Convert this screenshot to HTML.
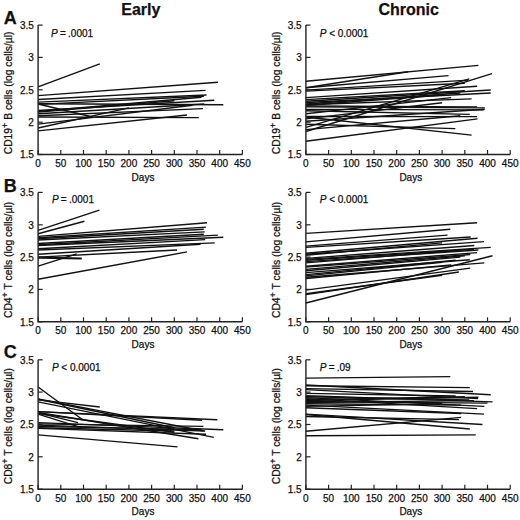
<!DOCTYPE html>
<html><head><meta charset="utf-8"><style>
html,body{margin:0;padding:0;background:#fff;width:520px;height:520px;overflow:hidden}
svg{display:block}
text{font-family:"Liberation Sans", sans-serif;font-size:10px;fill:#111;stroke:#111;stroke-width:0.25px}
.t{font-weight:bold;font-size:16px}
.yl{font-size:10.3px}
.L{font-weight:bold;font-size:18px}
.ax{fill:none;stroke:#222;stroke-width:1.4;stroke-linejoin:miter}
.tk{fill:none;stroke:#222;stroke-width:1.2}
.d{stroke:#111;stroke-width:1.4;stroke-linecap:butt}
</style></head><body>
<svg width="520" height="520" viewBox="0 0 520 520">
<line x1="38.1" y1="86.9" x2="99.8" y2="63.9" class="d"/>
<line x1="38.1" y1="95.6" x2="217.9" y2="82.3" class="d"/>
<line x1="38.1" y1="99.5" x2="205.6" y2="90.4" class="d"/>
<line x1="38.1" y1="102.1" x2="206.5" y2="95.0" class="d"/>
<line x1="38.1" y1="103.7" x2="223.3" y2="104.7" class="d"/>
<line x1="38.1" y1="104.0" x2="92.6" y2="117.0" class="d"/>
<line x1="38.1" y1="104.4" x2="203.8" y2="96.3" class="d"/>
<line x1="38.1" y1="110.5" x2="214.3" y2="100.2" class="d"/>
<line x1="38.1" y1="111.5" x2="201.5" y2="97.2" class="d"/>
<line x1="38.1" y1="112.1" x2="174.3" y2="100.8" class="d"/>
<line x1="38.1" y1="113.7" x2="204.3" y2="104.0" class="d"/>
<line x1="38.1" y1="115.7" x2="202.9" y2="108.6" class="d"/>
<line x1="38.1" y1="117.0" x2="198.8" y2="117.6" class="d"/>
<line x1="38.1" y1="124.1" x2="192.5" y2="105.3" class="d"/>
<line x1="38.1" y1="128.0" x2="128.9" y2="107.9" class="d"/>
<line x1="38.1" y1="130.9" x2="187.0" y2="115.0" class="d"/>
<path class="ax" d="M38.1 25.1V154.5H242.4"/>
<path class="tk" d="M38.1 154.5h4.6"/>
<text x="33.9" y="158.4" text-anchor="end">1.5</text>
<path class="tk" d="M38.1 122.2h4.6"/>
<text x="33.9" y="126.1" text-anchor="end">2</text>
<path class="tk" d="M38.1 89.8h4.6"/>
<text x="33.9" y="93.7" text-anchor="end">2.5</text>
<path class="tk" d="M38.1 57.4h4.6"/>
<text x="33.9" y="61.3" text-anchor="end">3</text>
<path class="tk" d="M38.1 25.1h4.6"/>
<text x="33.9" y="29.0" text-anchor="end">3.5</text>
<path class="tk" d="M38.1 154.5v-4.5"/>
<text x="38.1" y="167.1" text-anchor="middle">0</text>
<path class="tk" d="M60.8 154.5v-4.5"/>
<text x="60.8" y="167.1" text-anchor="middle">50</text>
<path class="tk" d="M83.5 154.5v-4.5"/>
<text x="83.5" y="167.1" text-anchor="middle">100</text>
<path class="tk" d="M106.2 154.5v-4.5"/>
<text x="106.2" y="167.1" text-anchor="middle">150</text>
<path class="tk" d="M128.9 154.5v-4.5"/>
<text x="128.9" y="167.1" text-anchor="middle">200</text>
<path class="tk" d="M151.6 154.5v-4.5"/>
<text x="151.6" y="167.1" text-anchor="middle">250</text>
<path class="tk" d="M174.3 154.5v-4.5"/>
<text x="174.3" y="167.1" text-anchor="middle">300</text>
<path class="tk" d="M197.0 154.5v-4.5"/>
<text x="197.0" y="167.1" text-anchor="middle">350</text>
<path class="tk" d="M219.7 154.5v-4.5"/>
<text x="219.7" y="167.1" text-anchor="middle">400</text>
<path class="tk" d="M242.4 154.5v-4.5"/>
<text x="242.4" y="167.1" text-anchor="middle">450</text>
<text x="143.0" y="180.7" text-anchor="middle">Days</text>
<text class="yl" transform="translate(11.7 154.3) rotate(-90)">CD19<tspan dy="-4" font-size="9px">+</tspan><tspan dy="4"> B cells (log cells/µl)</tspan></text>
<text x="51.0" y="36.7" word-spacing="-0.5"><tspan font-style="italic">P</tspan> = .0001</text>
<line x1="305.9" y1="81.3" x2="478.4" y2="65.4" class="d"/>
<line x1="305.9" y1="87.8" x2="448.5" y2="75.6" class="d"/>
<line x1="305.9" y1="87.8" x2="408.0" y2="71.7" class="d"/>
<line x1="305.9" y1="90.1" x2="468.4" y2="80.1" class="d"/>
<line x1="305.9" y1="91.1" x2="464.8" y2="83.3" class="d"/>
<line x1="305.9" y1="97.6" x2="477.1" y2="86.2" class="d"/>
<line x1="305.9" y1="99.6" x2="464.8" y2="90.8" class="d"/>
<line x1="305.9" y1="101.2" x2="490.7" y2="90.0" class="d"/>
<line x1="305.9" y1="102.5" x2="490.7" y2="93.0" class="d"/>
<line x1="305.9" y1="104.0" x2="460.3" y2="93.0" class="d"/>
<line x1="305.9" y1="104.7" x2="471.6" y2="98.9" class="d"/>
<line x1="305.9" y1="105.3" x2="442.1" y2="95.0" class="d"/>
<line x1="305.9" y1="106.0" x2="477.1" y2="106.9" class="d"/>
<line x1="305.9" y1="106.9" x2="484.8" y2="107.9" class="d"/>
<line x1="305.9" y1="109.4" x2="483.9" y2="109.9" class="d"/>
<line x1="305.9" y1="110.8" x2="469.8" y2="114.4" class="d"/>
<line x1="305.9" y1="113.7" x2="451.2" y2="97.6" class="d"/>
<line x1="305.9" y1="116.5" x2="477.1" y2="116.6" class="d"/>
<line x1="305.9" y1="118.9" x2="442.1" y2="102.7" class="d"/>
<line x1="305.9" y1="121.2" x2="484.8" y2="109.2" class="d"/>
<line x1="305.9" y1="124.2" x2="455.3" y2="128.6" class="d"/>
<line x1="305.9" y1="117.0" x2="471.6" y2="135.1" class="d"/>
<line x1="305.9" y1="127.3" x2="469.3" y2="78.8" class="d"/>
<line x1="305.9" y1="129.6" x2="460.3" y2="115.7" class="d"/>
<line x1="305.9" y1="131.5" x2="492.0" y2="73.6" class="d"/>
<line x1="305.9" y1="141.2" x2="477.5" y2="118.9" class="d"/>
<path class="ax" d="M305.9 25.1V154.5H510.2"/>
<path class="tk" d="M305.9 154.5h4.6"/>
<text x="301.7" y="158.4" text-anchor="end">1.5</text>
<path class="tk" d="M305.9 122.2h4.6"/>
<text x="301.7" y="126.1" text-anchor="end">2</text>
<path class="tk" d="M305.9 89.8h4.6"/>
<text x="301.7" y="93.7" text-anchor="end">2.5</text>
<path class="tk" d="M305.9 57.4h4.6"/>
<text x="301.7" y="61.3" text-anchor="end">3</text>
<path class="tk" d="M305.9 25.1h4.6"/>
<text x="301.7" y="29.0" text-anchor="end">3.5</text>
<path class="tk" d="M305.9 154.5v-4.5"/>
<text x="305.9" y="167.1" text-anchor="middle">0</text>
<path class="tk" d="M328.6 154.5v-4.5"/>
<text x="328.6" y="167.1" text-anchor="middle">50</text>
<path class="tk" d="M351.3 154.5v-4.5"/>
<text x="351.3" y="167.1" text-anchor="middle">100</text>
<path class="tk" d="M374.0 154.5v-4.5"/>
<text x="374.0" y="167.1" text-anchor="middle">150</text>
<path class="tk" d="M396.7 154.5v-4.5"/>
<text x="396.7" y="167.1" text-anchor="middle">200</text>
<path class="tk" d="M419.4 154.5v-4.5"/>
<text x="419.4" y="167.1" text-anchor="middle">250</text>
<path class="tk" d="M442.1 154.5v-4.5"/>
<text x="442.1" y="167.1" text-anchor="middle">300</text>
<path class="tk" d="M464.8 154.5v-4.5"/>
<text x="464.8" y="167.1" text-anchor="middle">350</text>
<path class="tk" d="M487.5 154.5v-4.5"/>
<text x="487.5" y="167.1" text-anchor="middle">400</text>
<path class="tk" d="M510.2 154.5v-4.5"/>
<text x="510.2" y="167.1" text-anchor="middle">450</text>
<text x="410.8" y="180.7" text-anchor="middle">Days</text>
<text class="yl" transform="translate(279.5 154.3) rotate(-90)">CD19<tspan dy="-4" font-size="9px">+</tspan><tspan dy="4"> B cells (log cells/µl)</tspan></text>
<text x="319.7" y="36.7"><tspan font-style="italic">P</tspan> &lt; 0.0001</text>
<line x1="38.1" y1="230.3" x2="99.4" y2="210.1" class="d"/>
<line x1="38.1" y1="233.8" x2="84.4" y2="221.3" class="d"/>
<line x1="38.1" y1="236.4" x2="207.0" y2="222.8" class="d"/>
<line x1="38.1" y1="237.7" x2="206.1" y2="227.1" class="d"/>
<line x1="38.1" y1="238.7" x2="203.8" y2="229.3" class="d"/>
<line x1="38.1" y1="240.0" x2="204.7" y2="231.9" class="d"/>
<line x1="38.1" y1="243.5" x2="203.8" y2="234.2" class="d"/>
<line x1="38.1" y1="244.8" x2="217.9" y2="235.1" class="d"/>
<line x1="38.1" y1="245.5" x2="223.3" y2="237.3" class="d"/>
<line x1="38.1" y1="248.7" x2="205.2" y2="239.6" class="d"/>
<line x1="38.1" y1="250.0" x2="214.7" y2="242.9" class="d"/>
<line x1="38.1" y1="254.2" x2="200.6" y2="244.2" class="d"/>
<line x1="38.1" y1="257.1" x2="177.0" y2="250.0" class="d"/>
<line x1="38.1" y1="257.1" x2="81.7" y2="258.1" class="d"/>
<line x1="38.1" y1="258.1" x2="81.7" y2="258.7" class="d"/>
<line x1="38.1" y1="266.2" x2="76.7" y2="253.9" class="d"/>
<line x1="38.1" y1="279.3" x2="187.0" y2="251.9" class="d"/>
<path class="ax" d="M38.1 192.4V321.8H242.4"/>
<path class="tk" d="M38.1 321.8h4.6"/>
<text x="33.9" y="325.7" text-anchor="end">1.5</text>
<path class="tk" d="M38.1 289.4h4.6"/>
<text x="33.9" y="293.3" text-anchor="end">2</text>
<path class="tk" d="M38.1 257.1h4.6"/>
<text x="33.9" y="261.0" text-anchor="end">2.5</text>
<path class="tk" d="M38.1 224.8h4.6"/>
<text x="33.9" y="228.7" text-anchor="end">3</text>
<path class="tk" d="M38.1 192.4h4.6"/>
<text x="33.9" y="196.3" text-anchor="end">3.5</text>
<path class="tk" d="M38.1 321.8v-4.5"/>
<text x="38.1" y="334.4" text-anchor="middle">0</text>
<path class="tk" d="M60.8 321.8v-4.5"/>
<text x="60.8" y="334.4" text-anchor="middle">50</text>
<path class="tk" d="M83.5 321.8v-4.5"/>
<text x="83.5" y="334.4" text-anchor="middle">100</text>
<path class="tk" d="M106.2 321.8v-4.5"/>
<text x="106.2" y="334.4" text-anchor="middle">150</text>
<path class="tk" d="M128.9 321.8v-4.5"/>
<text x="128.9" y="334.4" text-anchor="middle">200</text>
<path class="tk" d="M151.6 321.8v-4.5"/>
<text x="151.6" y="334.4" text-anchor="middle">250</text>
<path class="tk" d="M174.3 321.8v-4.5"/>
<text x="174.3" y="334.4" text-anchor="middle">300</text>
<path class="tk" d="M197.0 321.8v-4.5"/>
<text x="197.0" y="334.4" text-anchor="middle">350</text>
<path class="tk" d="M219.7 321.8v-4.5"/>
<text x="219.7" y="334.4" text-anchor="middle">400</text>
<path class="tk" d="M242.4 321.8v-4.5"/>
<text x="242.4" y="334.4" text-anchor="middle">450</text>
<text x="143.0" y="348.0" text-anchor="middle">Days</text>
<text class="yl" transform="translate(11.7 318.0) rotate(-90)">CD4<tspan dy="-4" font-size="9px">+</tspan><tspan dy="4"> T cells (log cells/µl)</tspan></text>
<text x="51.9" y="203.4" word-spacing="-0.5"><tspan font-style="italic">P</tspan> = .0001</text>
<line x1="305.9" y1="233.4" x2="477.1" y2="222.8" class="d"/>
<line x1="305.9" y1="241.9" x2="450.3" y2="229.3" class="d"/>
<line x1="305.9" y1="246.1" x2="447.5" y2="235.1" class="d"/>
<line x1="305.9" y1="247.4" x2="470.7" y2="237.0" class="d"/>
<line x1="305.9" y1="253.2" x2="477.5" y2="238.3" class="d"/>
<line x1="305.9" y1="254.2" x2="483.9" y2="241.6" class="d"/>
<line x1="305.9" y1="255.2" x2="442.1" y2="242.9" class="d"/>
<line x1="305.9" y1="258.4" x2="474.3" y2="245.5" class="d"/>
<line x1="305.9" y1="259.4" x2="490.7" y2="247.4" class="d"/>
<line x1="305.9" y1="260.3" x2="473.9" y2="249.3" class="d"/>
<line x1="305.9" y1="261.6" x2="478.4" y2="250.0" class="d"/>
<line x1="305.9" y1="262.9" x2="455.7" y2="250.6" class="d"/>
<line x1="305.9" y1="266.2" x2="477.1" y2="252.6" class="d"/>
<line x1="305.9" y1="267.1" x2="470.2" y2="254.5" class="d"/>
<line x1="305.9" y1="269.4" x2="464.8" y2="255.8" class="d"/>
<line x1="305.9" y1="270.7" x2="460.3" y2="257.1" class="d"/>
<line x1="305.9" y1="272.6" x2="469.8" y2="259.7" class="d"/>
<line x1="305.9" y1="274.6" x2="455.7" y2="260.3" class="d"/>
<line x1="305.9" y1="275.9" x2="442.1" y2="262.3" class="d"/>
<line x1="305.9" y1="277.2" x2="484.3" y2="262.9" class="d"/>
<line x1="305.9" y1="278.5" x2="451.2" y2="264.9" class="d"/>
<line x1="305.9" y1="290.1" x2="470.2" y2="268.1" class="d"/>
<line x1="305.9" y1="294.6" x2="458.9" y2="272.0" class="d"/>
<line x1="305.9" y1="293.7" x2="442.1" y2="275.2" class="d"/>
<line x1="305.9" y1="303.0" x2="492.5" y2="255.8" class="d"/>
<path class="ax" d="M305.9 192.4V321.8H510.2"/>
<path class="tk" d="M305.9 321.8h4.6"/>
<text x="301.7" y="325.7" text-anchor="end">1.5</text>
<path class="tk" d="M305.9 289.4h4.6"/>
<text x="301.7" y="293.3" text-anchor="end">2</text>
<path class="tk" d="M305.9 257.1h4.6"/>
<text x="301.7" y="261.0" text-anchor="end">2.5</text>
<path class="tk" d="M305.9 224.8h4.6"/>
<text x="301.7" y="228.7" text-anchor="end">3</text>
<path class="tk" d="M305.9 192.4h4.6"/>
<text x="301.7" y="196.3" text-anchor="end">3.5</text>
<path class="tk" d="M305.9 321.8v-4.5"/>
<text x="305.9" y="334.4" text-anchor="middle">0</text>
<path class="tk" d="M328.6 321.8v-4.5"/>
<text x="328.6" y="334.4" text-anchor="middle">50</text>
<path class="tk" d="M351.3 321.8v-4.5"/>
<text x="351.3" y="334.4" text-anchor="middle">100</text>
<path class="tk" d="M374.0 321.8v-4.5"/>
<text x="374.0" y="334.4" text-anchor="middle">150</text>
<path class="tk" d="M396.7 321.8v-4.5"/>
<text x="396.7" y="334.4" text-anchor="middle">200</text>
<path class="tk" d="M419.4 321.8v-4.5"/>
<text x="419.4" y="334.4" text-anchor="middle">250</text>
<path class="tk" d="M442.1 321.8v-4.5"/>
<text x="442.1" y="334.4" text-anchor="middle">300</text>
<path class="tk" d="M464.8 321.8v-4.5"/>
<text x="464.8" y="334.4" text-anchor="middle">350</text>
<path class="tk" d="M487.5 321.8v-4.5"/>
<text x="487.5" y="334.4" text-anchor="middle">400</text>
<path class="tk" d="M510.2 321.8v-4.5"/>
<text x="510.2" y="334.4" text-anchor="middle">450</text>
<text x="410.8" y="348.0" text-anchor="middle">Days</text>
<text class="yl" transform="translate(279.5 318.0) rotate(-90)">CD4<tspan dy="-4" font-size="9px">+</tspan><tspan dy="4"> T cells (log cells/µl)</tspan></text>
<text x="319.7" y="203.4"><tspan font-style="italic">P</tspan> &lt; 0.0001</text>
<line x1="38.1" y1="387.0" x2="83.0" y2="420.0" class="d"/>
<line x1="38.1" y1="398.9" x2="203.8" y2="431.0" class="d"/>
<line x1="38.1" y1="399.3" x2="174.3" y2="427.7" class="d"/>
<line x1="38.1" y1="399.9" x2="99.8" y2="407.0" class="d"/>
<line x1="38.1" y1="401.9" x2="213.8" y2="437.4" class="d"/>
<line x1="38.1" y1="411.6" x2="217.4" y2="419.7" class="d"/>
<line x1="38.1" y1="411.6" x2="202.0" y2="420.2" class="d"/>
<line x1="38.1" y1="412.5" x2="198.4" y2="438.7" class="d"/>
<line x1="38.1" y1="413.5" x2="174.3" y2="432.3" class="d"/>
<line x1="38.1" y1="414.1" x2="81.2" y2="427.7" class="d"/>
<line x1="38.1" y1="412.9" x2="78.1" y2="422.6" class="d"/>
<line x1="38.1" y1="422.6" x2="223.3" y2="429.7" class="d"/>
<line x1="38.1" y1="423.9" x2="203.4" y2="426.4" class="d"/>
<line x1="38.1" y1="425.1" x2="205.2" y2="431.0" class="d"/>
<line x1="38.1" y1="426.4" x2="201.5" y2="429.7" class="d"/>
<line x1="38.1" y1="427.7" x2="174.3" y2="431.0" class="d"/>
<line x1="38.1" y1="434.9" x2="177.5" y2="446.9" class="d"/>
<line x1="38.1" y1="428.4" x2="206.1" y2="434.2" class="d"/>
<path class="ax" d="M38.1 359.8V489.2H242.4"/>
<path class="tk" d="M38.1 489.2h4.6"/>
<text x="33.9" y="493.1" text-anchor="end">1.5</text>
<path class="tk" d="M38.1 456.8h4.6"/>
<text x="33.9" y="460.7" text-anchor="end">2</text>
<path class="tk" d="M38.1 424.5h4.6"/>
<text x="33.9" y="428.4" text-anchor="end">2.5</text>
<path class="tk" d="M38.1 392.1h4.6"/>
<text x="33.9" y="396.0" text-anchor="end">3</text>
<path class="tk" d="M38.1 359.8h4.6"/>
<text x="33.9" y="363.7" text-anchor="end">3.5</text>
<path class="tk" d="M38.1 489.2v-4.5"/>
<text x="38.1" y="501.8" text-anchor="middle">0</text>
<path class="tk" d="M60.8 489.2v-4.5"/>
<text x="60.8" y="501.8" text-anchor="middle">50</text>
<path class="tk" d="M83.5 489.2v-4.5"/>
<text x="83.5" y="501.8" text-anchor="middle">100</text>
<path class="tk" d="M106.2 489.2v-4.5"/>
<text x="106.2" y="501.8" text-anchor="middle">150</text>
<path class="tk" d="M128.9 489.2v-4.5"/>
<text x="128.9" y="501.8" text-anchor="middle">200</text>
<path class="tk" d="M151.6 489.2v-4.5"/>
<text x="151.6" y="501.8" text-anchor="middle">250</text>
<path class="tk" d="M174.3 489.2v-4.5"/>
<text x="174.3" y="501.8" text-anchor="middle">300</text>
<path class="tk" d="M197.0 489.2v-4.5"/>
<text x="197.0" y="501.8" text-anchor="middle">350</text>
<path class="tk" d="M219.7 489.2v-4.5"/>
<text x="219.7" y="501.8" text-anchor="middle">400</text>
<path class="tk" d="M242.4 489.2v-4.5"/>
<text x="242.4" y="501.8" text-anchor="middle">450</text>
<text x="143.0" y="515.4" text-anchor="middle">Days</text>
<text class="yl" transform="translate(11.7 484.3) rotate(-90)">CD8<tspan dy="-4" font-size="9px">+</tspan><tspan dy="4"> T cells (log cells/µl)</tspan></text>
<text x="51.9" y="370.5"><tspan font-style="italic">P</tspan> &lt; 0.0001</text>
<line x1="305.9" y1="378.1" x2="450.3" y2="376.6" class="d"/>
<line x1="305.9" y1="385.0" x2="490.7" y2="394.7" class="d"/>
<line x1="305.9" y1="385.7" x2="469.8" y2="387.6" class="d"/>
<line x1="305.9" y1="388.6" x2="473.0" y2="391.5" class="d"/>
<line x1="305.9" y1="389.6" x2="478.0" y2="398.6" class="d"/>
<line x1="305.9" y1="393.4" x2="455.7" y2="396.0" class="d"/>
<line x1="305.9" y1="395.8" x2="492.5" y2="401.9" class="d"/>
<line x1="305.9" y1="396.7" x2="469.3" y2="399.9" class="d"/>
<line x1="305.9" y1="397.6" x2="484.3" y2="406.4" class="d"/>
<line x1="305.9" y1="398.6" x2="477.1" y2="408.6" class="d"/>
<line x1="305.9" y1="399.6" x2="464.8" y2="396.7" class="d"/>
<line x1="305.9" y1="400.6" x2="478.4" y2="397.3" class="d"/>
<line x1="305.9" y1="401.5" x2="487.5" y2="403.1" class="d"/>
<line x1="305.9" y1="402.5" x2="473.9" y2="400.6" class="d"/>
<line x1="305.9" y1="403.8" x2="461.2" y2="405.1" class="d"/>
<line x1="305.9" y1="405.1" x2="483.9" y2="414.1" class="d"/>
<line x1="305.9" y1="406.4" x2="442.1" y2="403.8" class="d"/>
<line x1="305.9" y1="407.7" x2="461.2" y2="413.5" class="d"/>
<line x1="305.9" y1="414.1" x2="482.5" y2="424.5" class="d"/>
<line x1="305.9" y1="414.5" x2="469.8" y2="429.0" class="d"/>
<line x1="305.9" y1="416.5" x2="458.9" y2="419.6" class="d"/>
<line x1="305.9" y1="431.2" x2="461.2" y2="417.4" class="d"/>
<line x1="305.9" y1="435.8" x2="475.7" y2="434.9" class="d"/>
<path class="ax" d="M305.9 359.8V489.2H510.2"/>
<path class="tk" d="M305.9 489.2h4.6"/>
<text x="301.7" y="493.1" text-anchor="end">1.5</text>
<path class="tk" d="M305.9 456.8h4.6"/>
<text x="301.7" y="460.7" text-anchor="end">2</text>
<path class="tk" d="M305.9 424.5h4.6"/>
<text x="301.7" y="428.4" text-anchor="end">2.5</text>
<path class="tk" d="M305.9 392.1h4.6"/>
<text x="301.7" y="396.0" text-anchor="end">3</text>
<path class="tk" d="M305.9 359.8h4.6"/>
<text x="301.7" y="363.7" text-anchor="end">3.5</text>
<path class="tk" d="M305.9 489.2v-4.5"/>
<text x="305.9" y="501.8" text-anchor="middle">0</text>
<path class="tk" d="M328.6 489.2v-4.5"/>
<text x="328.6" y="501.8" text-anchor="middle">50</text>
<path class="tk" d="M351.3 489.2v-4.5"/>
<text x="351.3" y="501.8" text-anchor="middle">100</text>
<path class="tk" d="M374.0 489.2v-4.5"/>
<text x="374.0" y="501.8" text-anchor="middle">150</text>
<path class="tk" d="M396.7 489.2v-4.5"/>
<text x="396.7" y="501.8" text-anchor="middle">200</text>
<path class="tk" d="M419.4 489.2v-4.5"/>
<text x="419.4" y="501.8" text-anchor="middle">250</text>
<path class="tk" d="M442.1 489.2v-4.5"/>
<text x="442.1" y="501.8" text-anchor="middle">300</text>
<path class="tk" d="M464.8 489.2v-4.5"/>
<text x="464.8" y="501.8" text-anchor="middle">350</text>
<path class="tk" d="M487.5 489.2v-4.5"/>
<text x="487.5" y="501.8" text-anchor="middle">400</text>
<path class="tk" d="M510.2 489.2v-4.5"/>
<text x="510.2" y="501.8" text-anchor="middle">450</text>
<text x="410.8" y="515.4" text-anchor="middle">Days</text>
<text class="yl" transform="translate(279.5 484.3) rotate(-90)">CD8<tspan dy="-4" font-size="9px">+</tspan><tspan dy="4"> T cells (log cells/µl)</tspan></text>
<text x="319.7" y="370.5" word-spacing="-0.5"><tspan font-style="italic">P</tspan> = .09</text>
<text x="140.8" y="14.5" text-anchor="middle" class="t">Early</text>
<text x="408.7" y="14.5" text-anchor="middle" class="t">Chronic</text>
<text x="3.8" y="23.7" class="L">A</text>
<text x="3.8" y="191.6" class="L">B</text>
<text x="3.8" y="358.4" class="L">C</text>
</svg>
</body></html>
